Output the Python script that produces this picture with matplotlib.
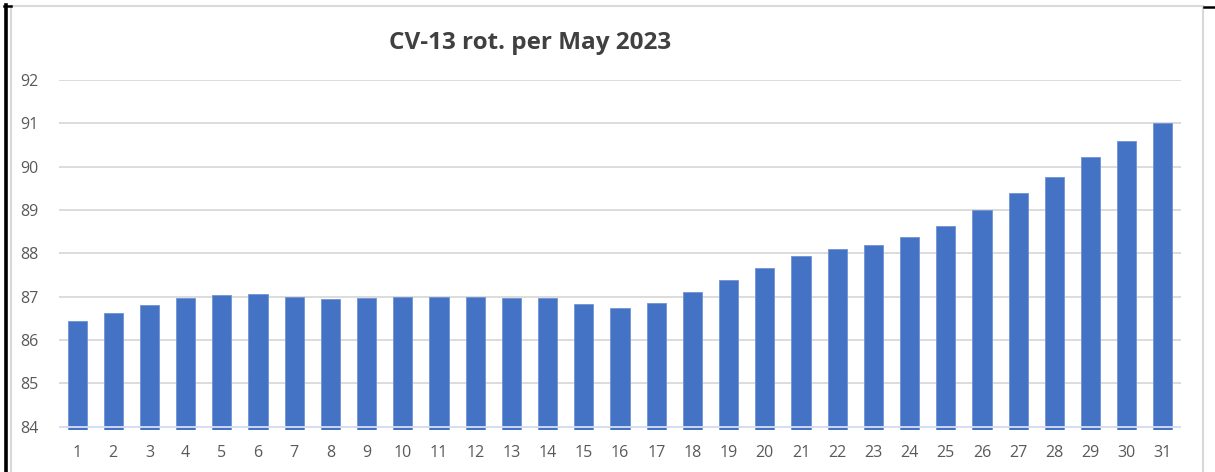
import numpy as np
import matplotlib.pyplot as plt
from matplotlib.lines import Line2D

days = [str(d) for d in range(1, 32)]
rot = [86.44, 86.62, 86.81, 86.97, 87.04, 87.06, 86.99, 86.95, 86.97, 86.99,
       86.99, 86.99, 86.97, 86.97, 86.83, 86.73, 86.85, 87.10, 87.38, 87.66,
       87.94, 88.11, 88.20, 88.37, 88.63, 89.01, 89.40, 89.76, 90.22, 90.59,
       91.01]
y_ticks = list(range(84, 93))

W, H = 1215, 472
fig = plt.figure(figsize=(W / 100, H / 100), dpi=100)
ax = fig.add_axes([59 / W, 1 - 429.7 / H, (1181 - 59) / W, (429.7 - 80) / H])

base = 83.93
x = np.arange(len(days))
ax.bar(x, np.array(rot) - base, bottom=base, width=0.53, color='#4472C4',
       edgecolor='#6f93d3', linewidth=0.6, zorder=2)

ax.set_xlim(-0.5, len(days) - 0.5)
ax.set_ylim(base, 92.0)
ax.set_yticks(y_ticks)
ax.set_xticks(x)
ax.set_xticklabels(days)
ax.grid(axis='y', color='#d9d9d9', linewidth=1.3, zorder=0)
ax.axhline(84, color='#d6e0f1', linewidth=1.3, zorder=3)
ax.set_axisbelow(True)
for s in ax.spines.values():
    s.set_visible(False)
ax.tick_params(length=0, colors='#595959', labelsize=11.5)
ax.tick_params(axis='y', pad=15)
ax.tick_params(axis='x', pad=11)
for lab in ax.get_xticklabels() + ax.get_yticklabels():
    lab.set_fontfamily('Open Sans')

fig.text(530 / W, 1 - 43 / H, 'CV-13 rot. per May 2023', ha='center', va='center',
         fontsize=17.5, fontweight='bold', color='#404040', family='Open Sans')

# chart frame
def px_line(x0, y0, x1, y1, color, lw):
    fig.add_artist(Line2D([x0 / W, x1 / W], [1 - y0 / H, 1 - y1 / H],
                          color=color, linewidth=lw, transform=fig.transFigure))

px_line(11, 6, 1203, 6, '#d9d9d9', 1.5)
px_line(11, 6, 11, H, '#d9d9d9', 1.5)
px_line(1203, 6, 1203, H, '#d9d9d9', 1.5)
px_line(5.5, 5, 5.5, H, 'black', 2.6)
px_line(4, 5.5, 11, 5.5, 'black', 1.8)
px_line(1204, 6.5, 1215, 6.5, 'black', 1.8)

fig.savefig('out.png', dpi=100)
